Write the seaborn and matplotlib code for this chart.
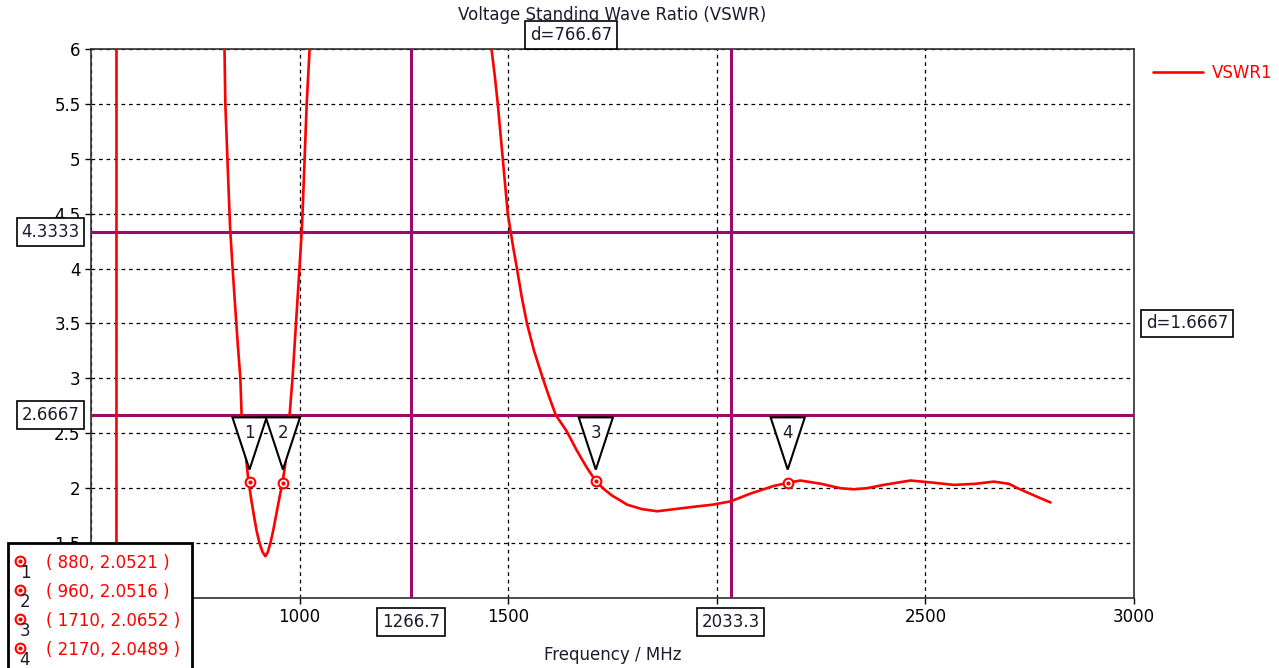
import numpy as np
import pandas as pd
import matplotlib
matplotlib.use("Agg")
import matplotlib.pyplot as plt
from matplotlib.patches import Polygon, Rectangle
import seaborn as sns

# VSWR-kurve lest av bildet (MHz, VSWR)
frekvens = [561, 562, 600, 700, 790, 820, 822, 827, 832, 834, 840, 846, 852, 858, 861,
            866, 871, 877, 884, 891, 897, 904, 911, 918, 924, 930, 937, 944, 952, 959,
            965, 970, 976, 983, 990, 998, 1005, 1007, 1012, 1017, 1024, 1100, 1250,
            1400, 1460, 1468, 1475, 1481, 1487, 1493, 1499, 1506, 1513, 1521, 1532,
            1545, 1562, 1583, 1598, 1614, 1624, 1640, 1665, 1688, 1710, 1730, 1750,
            1768, 1785, 1820, 1857, 1900, 1943, 1990, 2033, 2080, 2136, 2170, 2200,
            2250, 2296, 2327, 2360, 2400, 2464, 2520, 2568, 2620, 2664, 2700, 2721,
            2769, 2800]
vswr = [1.1, 60, 40, 25, 10, 6.0, 5.5, 5.0, 4.5, 4.333, 3.97, 3.63, 3.3, 3.0, 2.667,
        2.48, 2.3, 2.08, 1.9, 1.74, 1.61, 1.5, 1.42, 1.38, 1.42, 1.5, 1.62, 1.76, 1.92,
        2.05, 2.2, 2.4, 2.667, 3.0, 3.42, 3.9, 4.333, 4.5, 5.0, 5.5, 6.0, 12, 20,
        12, 6.0, 5.75, 5.5, 5.25, 5.0, 4.75, 4.5, 4.333, 4.17, 4.0, 3.75,
        3.5, 3.25, 3.0, 2.833, 2.667, 2.61, 2.52, 2.34, 2.19, 2.065, 1.99, 1.93,
        1.89, 1.85, 1.81, 1.79, 1.81, 1.83, 1.85, 1.88, 1.95, 2.02, 2.049, 2.07,
        2.04, 2.0, 1.99, 2.0, 2.03, 2.07, 2.05, 2.03, 2.04, 2.06, 2.04, 2.0,
        1.92, 1.87]

# markører
markor_nr = ["1", "2", "3", "4"]
markor_x = [880, 960, 1710, 2170]
markor_y = [2.0521, 2.0516, 2.0652, 2.0489]

# cursorlinjer
cursor_x = [1266.67, 2033.33]
cursor_y = [4.3333, 2.6667]
cursor_x_tekst = ["1266.7", "2033.3"]
cursor_y_tekst = ["4.3333", "2.6667"]
delta_x_tekst = "d=766.67"
delta_y_tekst = "d=1.6667"

# tick-etiketter som ligger skjult bak boksene er tomme
x_ticks = [500, 1000, 1500, 2000, 2500, 3000]
x_tick_tekst = ["", "1000", "1500", "", "2500", "3000"]
y_ticks = [1, 1.5, 2, 2.5, 3, 3.5, 4, 4.5, 5, 5.5, 6]
y_tick_tekst = ["", "1.5", "2", "2.5", "3", "3.5", "4", "4.5", "5", "5.5", "6"]

W, H = 1279, 668
lilla = "#9c0a6e"
rod = "#ff0000"
tekstfarge = "#1c1c30"
fs = 12

sns.set_theme(style="white")
plt.rcParams["font.family"] = ["DejaVu Sans"]
plt.rcParams["font.size"] = fs

fig = plt.figure(figsize=(W / 100, H / 100), dpi=100)
ax = fig.add_axes([91 / W, 1 - 598 / H, (1134 - 91) / W, (598 - 49) / H])

df = pd.DataFrame({"Frequency": frekvens, "VSWR": vswr})
sns.lineplot(data=df, x="Frequency", y="VSWR", color=rod, lw=1.9, sort=False,
             estimator=None, label="VSWR1", ax=ax, zorder=4)

# cursorlinjer
for cx in cursor_x:
    ax.axvline(cx, color=lilla, lw=2.2, zorder=3)
for cy in cursor_y:
    ax.axhline(cy, color=lilla, lw=2.2, zorder=3)

ax.set_xlim(500, 3000)
ax.set_ylim(1, 6)
ax.set_xticks(x_ticks)
ax.set_xticklabels(x_tick_tekst)
ax.set_yticks(y_ticks)
ax.set_yticklabels(y_tick_tekst)
ax.tick_params(axis="both", labelsize=fs, colors="black", length=4, width=1,
               direction="out", left=True, bottom=True)
ax.grid(True, color="black", linestyle=(0, (3, 3)), lw=0.9)
for s in ax.spines.values():
    s.set_color("#303030")
    s.set_linewidth(1.2)

ax.set_title("Voltage Standing Wave Ratio (VSWR)", fontsize=fs, pad=21, color=tekstfarge)
ax.set_xlabel("Frequency / MHz", fontsize=fs, labelpad=14, color=tekstfarge)
ax.set_ylabel("")

boks = dict(boxstyle="square,pad=0.28", fc="white", ec="black", lw=1.2)

# verdier for cursorene
ytr = ax.get_yaxis_transform()
xtr = ax.get_xaxis_transform()
for cy, t in zip(cursor_y, cursor_y_tekst):
    ax.text(-0.011, cy, t, transform=ytr, ha="right", va="center", fontsize=fs,
            bbox=boks, zorder=10, clip_on=False, color=tekstfarge)
for cx, t in zip(cursor_x, cursor_x_tekst):
    ax.text(cx, -0.044, t, transform=xtr, ha="center", va="center", fontsize=fs,
            bbox=boks, zorder=10, clip_on=False, color=tekstfarge)
ax.text(np.mean(cursor_x), 1.0255, delta_x_tekst, transform=xtr, ha="center",
        va="center", fontsize=fs, bbox=boks, zorder=10, clip_on=False, color=tekstfarge)
ax.text(1.0115, np.mean(cursor_y), delta_y_tekst, transform=ytr, ha="left",
        va="center", fontsize=fs, bbox=boks, zorder=10, clip_on=False, color=tekstfarge)

# markører på kurven med trekanter
for nr, mx, my in zip(markor_nr, markor_x, markor_y):
    tri = Polygon([[mx - 41, 2.645], [mx + 41, 2.645], [mx, 2.17]], closed=True,
                  fc="white", ec="black", lw=1.5, zorder=6)
    ax.add_patch(tri)
    ax.text(mx, 2.5, nr, ha="center", va="center", fontsize=fs, color=tekstfarge,
            zorder=7)
ax.plot(markor_x, markor_y, "o", ms=7, mfc="white", mec=rod, mew=1.5, zorder=8)
ax.plot(markor_x, markor_y, "o", ms=2, color=rod, zorder=9)

# legende
ax.legend(loc="upper left", bbox_to_anchor=(1.012, 0.985), frameon=False,
          handlelength=3.0, handletextpad=0.5, fontsize=fs, labelcolor=rod,
          borderaxespad=0)

# markørtabell nede til venstre
def fx(px):
    return px / W

def fy(py):
    return 1 - py / H

tabell = Rectangle((fx(8), fy(672)), fx(192) - fx(8), fy(543) - fy(672),
                   transform=fig.transFigure, fc="white", ec="black", lw=2, zorder=20)
fig.add_artist(tabell)
for i, (nr, mx, my) in enumerate(zip(markor_nr, markor_x, markor_y)):
    rad_y = 562 + 29 * i
    fig.add_artist(plt.Line2D([fx(20)], [fy(rad_y - 1)], marker="o", ms=7, mfc="white",
                              mec=rod, mew=1.5, transform=fig.transFigure, zorder=21))
    fig.add_artist(plt.Line2D([fx(20)], [fy(rad_y - 1)], marker="o", ms=2, color=rod,
                              transform=fig.transFigure, zorder=22))
    fig.text(fx(25), fy(rad_y + 11), nr, ha="center", va="center", fontsize=fs,
             color=tekstfarge, zorder=23)
    fig.text(fx(46), fy(rad_y + 1), f"( {mx}, {my:.4f} )", ha="left", va="center",
             fontsize=fs, color=rod, zorder=23)

fig.savefig("out.png", dpi=100)
